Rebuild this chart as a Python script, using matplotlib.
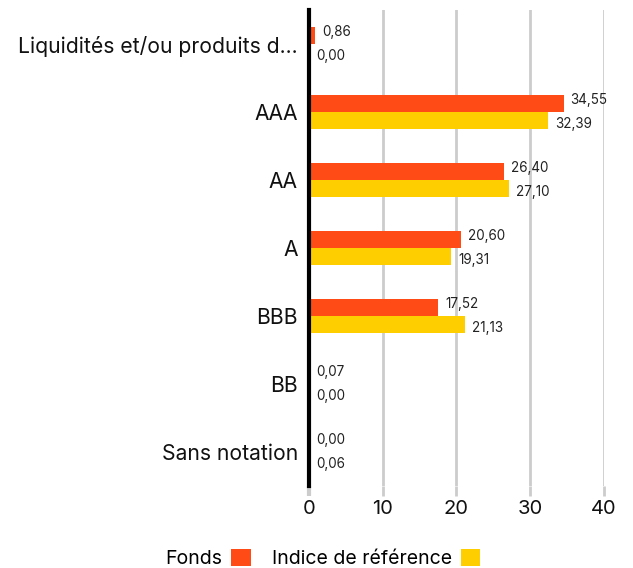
import numpy as np
import matplotlib.pyplot as plt
from matplotlib.patches import Patch

plt.rcParams['font.family'] = ['Inter', 'DejaVu Sans']

categories = ['Liquidités et/ou produits d...', 'AAA', 'AA', 'A', 'BBB', 'BB', 'Sans notation']
fonds = [0.86, 34.55, 26.40, 20.60, 17.52, 0.07, 0.00]
indice = [0.00, 32.39, 27.10, 19.31, 21.13, 0.00, 0.06]
series_names = ['Fonds', 'Indice de référence']

orange = '#FF4C17'
yellow = '#FFCE00'

fig = plt.figure(figsize=(6.33, 5.68), dpi=100)
ax = fig.add_axes([0.488, 0.144, 0.466, 0.838])

y = np.arange(len(categories))
h = 0.25
ax.barh(y - h / 2, fonds, height=h, color=orange, zorder=3)
ax.barh(y + h / 2, indice, height=h, color=yellow, zorder=3)

def fmt(v):
    return f'{v:.2f}'.replace('.', ',')

for i in range(len(categories)):
    ax.annotate(fmt(fonds[i]), (fonds[i], y[i] - h / 2), xytext=(5, 2.5), textcoords='offset points',
                va='center', ha='left', fontsize=9.7, color='#222222')
    ax.annotate(fmt(indice[i]), (indice[i], y[i] + h / 2), xytext=(5, -2.5), textcoords='offset points',
                va='center', ha='left', fontsize=9.7, color='#222222')

ax.set_xlim(0, 40)
ax.set_ylim(len(categories) - 0.5, -0.5)
ax.set_xticks([0, 10, 20, 30, 40])
ax.set_yticks(y)
ax.set_yticklabels(categories, fontsize=15.2, color='#111111')
ax.tick_params(axis='y', length=0, pad=8)
ax.tick_params(axis='x', length=7, width=2, color='#cccccc', labelsize=14.5, pad=3, labelcolor='#111111')
ax.xaxis.get_major_ticks()[0].tick1line.set_color('black')
ax.xaxis.get_major_ticks()[0].tick1line.set_markeredgewidth(3)

ax.grid(axis='x', color='#cccccc', linewidth=2, zorder=0)
for s in ['top', 'right', 'bottom']:
    ax.spines[s].set_visible(False)
ax.spines['left'].set_linewidth(3)
ax.spines['left'].set_color('black')
ax.spines['left'].set_zorder(4)

handles = [Patch(facecolor=orange), Patch(facecolor=yellow)]
fig.legend(handles, series_names, loc='center', bbox_to_anchor=(0.51, 0.017), ncol=2,
           frameon=False, markerfirst=False, fontsize=14, handlelength=1.0, handleheight=1.0,
           handletextpad=0.45, columnspacing=1.1)

fig.savefig('out.png', dpi=100)
